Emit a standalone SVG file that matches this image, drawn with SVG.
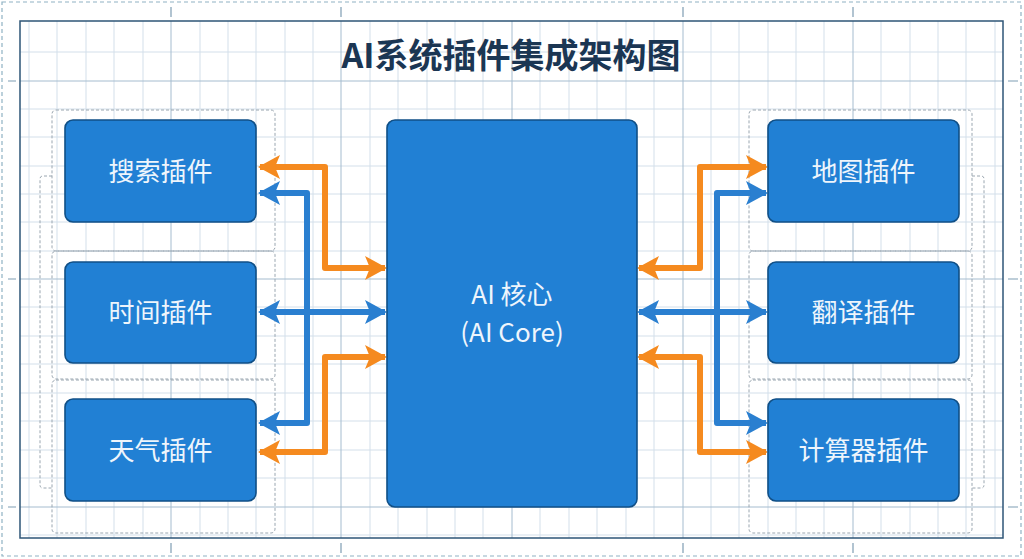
<svg xmlns="http://www.w3.org/2000/svg" width="1024" height="559" viewBox="0 0 1024 559">
<defs>
<style>
.minor{stroke:#d3dfea;stroke-width:1;fill:none}
.major{stroke:#a5bccf;stroke-width:1;fill:none}
.tick{stroke:#7f9db3;stroke-width:1.2}
.grp{fill:none;stroke:#9aa6b0;stroke-width:1;stroke-dasharray:3 2}
.node{fill:#2180d4;stroke:#104f86;stroke-width:1.6}
.lbl{font-family:"Noto Sans CJK SC","Noto Sans",sans-serif;font-size:26px;fill:#eef5fc;text-anchor:middle}
.o{fill:none;stroke:#f58a1f;stroke-width:6;stroke-linejoin:round}
.b{fill:none;stroke:#2a7fd0;stroke-width:6;stroke-linejoin:round}
</style>
<marker id="ao" viewBox="0 0 22 24" refX="20" refY="12" markerWidth="22" markerHeight="24" markerUnits="userSpaceOnUse" orient="auto-start-reverse">
<path d="M0,0 L22,12 L0,24 L5,12 Z" fill="#f58a1f"/>
</marker>
<marker id="ab" viewBox="0 0 22 24" refX="20" refY="12" markerWidth="22" markerHeight="24" markerUnits="userSpaceOnUse" orient="auto-start-reverse">
<path d="M0,0 L22,12 L0,24 L5,12 Z" fill="#2a7fd0"/>
</marker>
</defs>
<rect width="1024" height="559" fill="#ffffff"/>
<rect x="2" y="2" width="1019" height="554" fill="none" stroke="#8fb2c4" stroke-width="1.2" stroke-dasharray="4 3"/>
<g id="grid">
<path class="minor" d="M29,21V538M57,21V538M86,21V538M114,21V538M143,21V538M200,21V538M228,21V538M256,21V538M285,21V538M313,21V538M370,21V538M398,21V538M427,21V538M455,21V538M483,21V538M540,21V538M569,21V538M597,21V538M626,21V538M654,21V538M711,21V538M739,21V538M768,21V538M796,21V538M824,21V538M881,21V538M910,21V538M938,21V538M966,21V538M995,21V538"/>
<path class="minor" d="M20,52H1003M20,109H1003M20,137H1003M20,166H1003M20,194H1003M20,222H1003M20,251H1003M20,307H1003M20,336H1003M20,364H1003M20,393H1003M20,421H1003M20,450H1003M20,478H1003M20,535H1003"/>
<path class="major" d="M171,21V538M341,21V538M512,21V538M683,21V538M853,21V538M20,81H1003M20,279H1003M20,507H1003"/>
<rect x="20" y="21" width="983" height="517" fill="none" stroke="#2e5577" stroke-width="1.5"/>
<path class="tick" d="M171,7V17M341,7V17M683,7V17M853,7V17M171,543V553M341,543V553M683,543V553M853,543V553M8,81H16M8,279H16M8,507H16M1008,81H1018M1008,279H1018M1008,507H1018"/>
</g>
<text id="title" x="511" y="68" font-family="'Noto Sans CJK SC','Noto Sans',sans-serif" font-size="34" font-weight="bold" fill="#1b3653" text-anchor="middle">AI系统插件集成架构图</text>
<g id="groups">
<rect class="grp" x="52" y="110" width="223" height="141" rx="4"/>
<rect class="grp" x="52" y="251" width="223" height="128" rx="4"/>
<rect class="grp" x="52" y="380" width="223" height="153" rx="4"/>
<path class="grp" d="M52,176H43Q40,176 40,179V485Q40,488 43,488H52"/>
<rect class="grp" x="749" y="110" width="223" height="141" rx="4"/>
<rect class="grp" x="749" y="251" width="223" height="128" rx="4"/>
<rect class="grp" x="749" y="380" width="223" height="153" rx="4"/>
<path class="grp" d="M972,176H981Q984,176 984,179V485Q984,488 981,488H972"/>
</g>
<g id="connectors">
<path class="o" d="M385,268H325V167H260" marker-start="url(#ao)" marker-end="url(#ao)"/>
<path class="o" d="M385,357H325V452H260" marker-start="url(#ao)" marker-end="url(#ao)"/>
<path class="b" d="M260,193H307V423H260" marker-start="url(#ab)" marker-end="url(#ab)"/>
<path class="b" d="M260,312H385" marker-start="url(#ab)" marker-end="url(#ab)"/>
<path class="o" d="M639,268H700V167H766" marker-start="url(#ao)" marker-end="url(#ao)"/>
<path class="o" d="M639,357H700V452H766" marker-start="url(#ao)" marker-end="url(#ao)"/>
<path class="b" d="M766,193H717V423H766" marker-start="url(#ab)" marker-end="url(#ab)"/>
<path class="b" d="M639,312H766" marker-start="url(#ab)" marker-end="url(#ab)"/>
</g>
<g id="search"><rect class="node" x="65" y="120" width="191" height="102" rx="8"/><text class="lbl" x="160.5" y="181">搜索插件</text></g>
<g id="time"><rect class="node" x="65" y="262" width="191" height="101" rx="8"/><text class="lbl" x="160.5" y="322">时间插件</text></g>
<g id="weather"><rect class="node" x="65" y="399" width="191" height="102" rx="8"/><text class="lbl" x="160.5" y="460">天气插件</text></g>
<g id="core"><rect class="node" x="387" y="120" width="250" height="387" rx="8"/><text class="lbl" x="512" y="304">AI 核心</text><text class="lbl" x="512" y="342">(AI Core)</text></g>
<g id="map"><rect class="node" x="768" y="120" width="191" height="102" rx="8"/><text class="lbl" x="863.5" y="181">地图插件</text></g>
<g id="translate"><rect class="node" x="768" y="262" width="191" height="101" rx="8"/><text class="lbl" x="863.5" y="322">翻译插件</text></g>
<g id="calc"><rect class="node" x="768" y="399" width="191" height="102" rx="8"/><text class="lbl" x="863.5" y="460">计算器插件</text></g>
</svg>
